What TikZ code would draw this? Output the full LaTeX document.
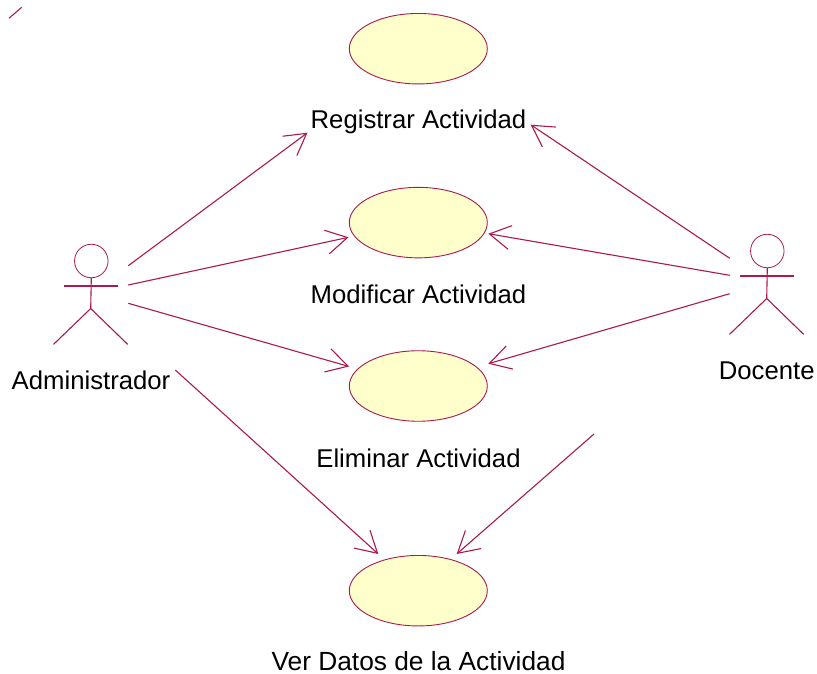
\documentclass[tikz,border=0pt]{standalone}
\usepackage{fontspec}
\setmainfont{Liberation Sans}
\usetikzlibrary{arrows.meta,shapes.geometric}
\definecolor{umlline}{RGB}{170,25,80}
\definecolor{umlfill}{RGB}{255,255,204}
\tikzset{
  usecase/.style={ellipse,draw=umlline,fill=umlfill,line width=0.9pt,minimum width=138pt,minimum height=70.5pt,inner sep=0pt},
  caption/.style={inner sep=0pt,anchor=base,font=\fontsize{25.7}{30}\selectfont,text=black},
  assoc/.style={draw=umlline,line width=1.1pt,-{Straight Barb[length=21pt,width=24pt,line width=1.1pt]}},
  actorline/.style={draw=umlline,line width=1.1pt}
}
\newcommand{\stickman}[3]{%
  \node[circle,draw=umlline,line width=0.8pt,minimum size=33.5pt,inner sep=0pt] (#3head) at (#1,#2) {};
  \coordinate (#3hip) at (#1-0.6,#2+47.5);
  \coordinate (#3neck) at (#1-0.6,#2+25);
  \coordinate (#3armL) at (#1-27.3,#2+25);
  \coordinate (#3armR) at (#1+26.2,#2+25);
  \coordinate (#3legL) at (#1-37.8,#2+83.4);
  \coordinate (#3legR) at (#1+36.4,#2+83.4);
  \draw[actorline] (#3head.south) -- (#3hip);
  \draw[actorline] (#3armL) -- (#3armR);
  \draw[actorline] (#3legL) -- (#3hip) -- (#3legR);
}
\begin{document}
\begin{tikzpicture}[x=1pt,y=-1pt]
\useasboundingbox (0,0) rectangle (817,674);
\node[usecase] (u1) at (418.3,48.7) {};
\node[usecase] (u2) at (418.3,222.6) {};
\node[usecase] (u3) at (418.3,386) {};
\node[usecase] (u4) at (418.3,590.7) {};
\node[caption] (t1) at (418.5,129) {Registrar Actividad};
\node[caption] (t2) at (418.5,303) {Modificar Actividad};
\node[caption] (t3) at (418.5,467) {Eliminar Actividad};
\node[caption,font=\fontsize{26.3}{30}\selectfont] (t4) at (418.5,670) {Ver Datos de la Actividad};
\stickman{91.3}{261}{adm}
\stickman{767.3}{251}{doc}
\node[caption] (adm) at (91,389) {Administrador};
\node[caption] (doc) at (766.7,379) {Docente};
\coordinate (a1) at (128.3,265.7);
\coordinate (a2) at (128.3,285);
\coordinate (a3) at (128.3,303.3);
\coordinate (a4) at (175.3,370);
\coordinate (d1) at (729.7,258.3);
\coordinate (d2) at (729.7,275.3);
\coordinate (d3) at (729.7,293.7);
\coordinate (d4) at (594,434);
\coordinate (r1) at (307.5,132.7);
\coordinate (r2) at (530.7,124.7);
\coordinate (m1) at (348.5,237.3);
\coordinate (m2) at (488.3,233.7);
\coordinate (e1) at (349,366.5);
\coordinate (e2) at (488.3,363.7);
\coordinate (v1) at (378.3,554);
\coordinate (v2) at (456.7,554);
\coordinate (s1) at (9,18.3);
\coordinate (s2) at (21.7,7.3);
\draw[assoc] (a1) -- (r1);
\draw[assoc] (a2) -- (m1);
\draw[assoc] (a3) -- (e1);
\draw[assoc] (a4) -- (v1);
\draw[assoc] (d1) -- (r2);
\draw[assoc] (d2) -- (m2);
\draw[assoc] (d3) -- (e2);
\draw[assoc] (d4) -- (v2);
\draw[actorline] (s1) -- (s2);
\end{tikzpicture}
\end{document}
